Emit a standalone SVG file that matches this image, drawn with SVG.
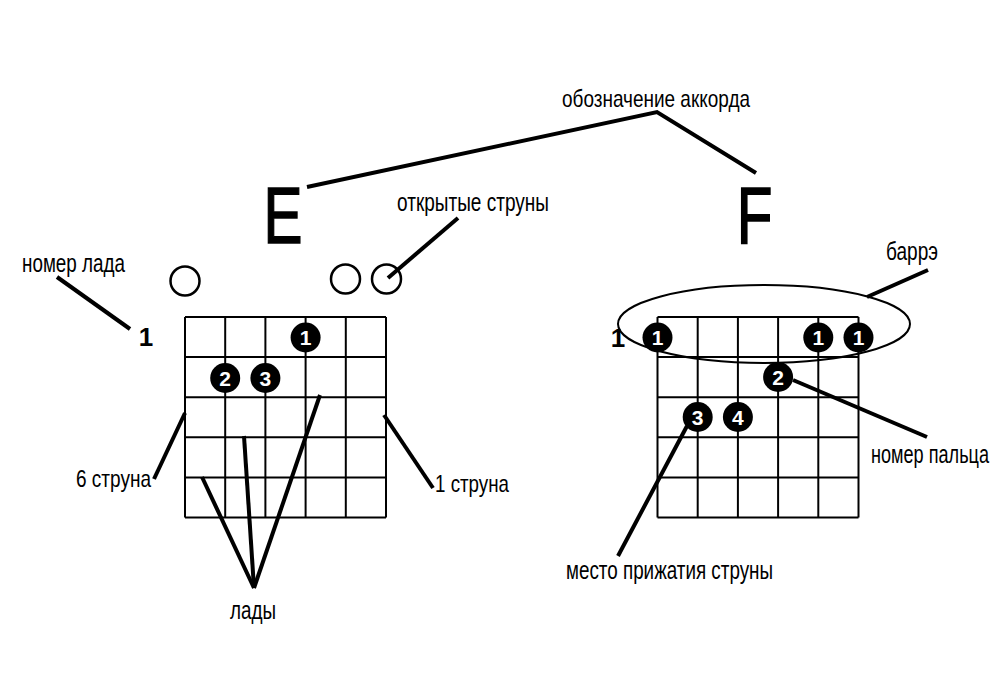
<svg xmlns="http://www.w3.org/2000/svg" width="1000" height="694" viewBox="0 0 1000 694">
<style>
.lbl{font-family:"Liberation Sans",Arial,sans-serif;font-size:24px;fill:#000}
.lg{font-size:26px}
.big{font-family:"Liberation Sans",Arial,sans-serif;font-size:79px;fill:#000;stroke:#000;stroke-width:1.6}
.fret{font-family:"Liberation Sans",Arial,sans-serif;font-size:26px;font-weight:bold;fill:#000;text-anchor:middle}
.grid line{stroke:#000;stroke-width:2}
.dot circle{fill:#000}
.dot text{font-family:"Liberation Sans",Arial,sans-serif;font-size:21px;font-weight:bold;fill:#fff;text-anchor:middle}
.open{fill:none;stroke:#000;stroke-width:2.5}
.conn line,.conn polyline{stroke:#000;stroke-width:4;fill:none}
</style>
<rect width="1000" height="694" fill="#fff"/>

<g id="label-chord"><text class="lbl" x="562" y="107" textLength="188" lengthAdjust="spacingAndGlyphs">обозначение аккорда</text></g>
<g id="label-open"><text class="lbl lg" x="397" y="211" textLength="152" lengthAdjust="spacingAndGlyphs">открытые струны</text></g>
<g id="label-fretnum"><text class="lbl lg" x="22" y="272" textLength="103" lengthAdjust="spacingAndGlyphs">номер лада</text></g>
<g id="label-6"><text class="lbl" x="76" y="487" textLength="75" lengthAdjust="spacingAndGlyphs">6 струна</text></g>
<g id="label-1"><text class="lbl" x="435" y="492" textLength="74" lengthAdjust="spacingAndGlyphs">1 струна</text></g>
<g id="label-frets"><text class="lbl lg" x="230" y="619" textLength="46" lengthAdjust="spacingAndGlyphs">лады</text></g>
<g id="label-barre"><text class="lbl lg" x="886" y="260" textLength="52" lengthAdjust="spacingAndGlyphs">баррэ</text></g>
<g id="label-finger"><text class="lbl lg" transform="translate(871,463) scale(0.7,1)" x="0" y="0" textLength="168.6" lengthAdjust="spacingAndGlyphs">номер пальца</text></g>
<g id="label-press"><text class="lbl lg" x="566" y="579" textLength="207" lengthAdjust="spacingAndGlyphs">место прижатия струны</text></g>

<g id="chord-E"><text class="big" transform="translate(263.5,242.5) scale(0.74,1)">E</text></g>
<g id="chord-F"><text class="big" transform="translate(736.8,242.5) scale(0.74,1)">F</text></g>

<g id="fret-E"><text class="fret" x="146" y="346">1</text></g>
<g id="fret-F"><text class="fret" x="618" y="347">1</text></g>

<g id="open-strings">
<circle class="open" cx="185" cy="281" r="14.5"/>
<circle class="open" cx="345.5" cy="279" r="14.5"/>
<circle class="open" cx="386.5" cy="279" r="14.5"/>
</g>

<g id="grid-E" class="grid">
<line x1="185" y1="317" x2="386" y2="317"/>
<line x1="185" y1="357.1" x2="386" y2="357.1"/>
<line x1="185" y1="397.2" x2="386" y2="397.2"/>
<line x1="185" y1="437.3" x2="386" y2="437.3"/>
<line x1="185" y1="477.4" x2="386" y2="477.4"/>
<line x1="185" y1="517.5" x2="386" y2="517.5"/>
<line x1="185" y1="317" x2="185" y2="517.5"/>
<line x1="225.2" y1="317" x2="225.2" y2="517.5"/>
<line x1="265.4" y1="317" x2="265.4" y2="517.5"/>
<line x1="305.6" y1="317" x2="305.6" y2="517.5"/>
<line x1="345.8" y1="317" x2="345.8" y2="517.5"/>
<line x1="386" y1="317" x2="386" y2="517.5"/>
</g>

<g id="grid-F" class="grid">
<line x1="657.5" y1="317" x2="858.5" y2="317"/>
<line x1="657.5" y1="357.1" x2="858.5" y2="357.1"/>
<line x1="657.5" y1="397.2" x2="858.5" y2="397.2"/>
<line x1="657.5" y1="437.3" x2="858.5" y2="437.3"/>
<line x1="657.5" y1="477.4" x2="858.5" y2="477.4"/>
<line x1="657.5" y1="517.5" x2="858.5" y2="517.5"/>
<line x1="657.5" y1="317" x2="657.5" y2="517.5"/>
<line x1="697.7" y1="317" x2="697.7" y2="517.5"/>
<line x1="737.9" y1="317" x2="737.9" y2="517.5"/>
<line x1="778.1" y1="317" x2="778.1" y2="517.5"/>
<line x1="818.3" y1="317" x2="818.3" y2="517.5"/>
<line x1="858.5" y1="317" x2="858.5" y2="517.5"/>
</g>

<g id="barre"><ellipse cx="764" cy="324" rx="146" ry="39" fill="none" stroke="#000" stroke-width="2"/></g>

<g id="dots-E" class="dot">
<circle cx="305.6" cy="337.5" r="15"/><text x="305.6" y="345">1</text>
<circle cx="225.2" cy="378" r="15"/><text x="225.2" y="385.5">2</text>
<circle cx="265.4" cy="378" r="15"/><text x="265.4" y="385.5">3</text>
</g>

<g id="dots-F" class="dot">
<circle cx="657.5" cy="337.5" r="15"/><text x="657.5" y="345">1</text>
<circle cx="818.3" cy="337.5" r="15"/><text x="818.3" y="345">1</text>
<circle cx="858.5" cy="337.5" r="15"/><text x="858.5" y="345">1</text>
<circle cx="778.1" cy="377" r="15"/><text x="778.1" y="384.5">2</text>
<circle cx="697.7" cy="417" r="15"/><text x="697.7" y="424.5">3</text>
<circle cx="737.9" cy="417" r="15"/><text x="737.9" y="424.5">4</text>
</g>

<g id="connectors" class="conn">
<polyline points="307,187 657,112 756,173"/>
<line x1="388" y1="278" x2="458" y2="218"/>
<line x1="57" y1="277" x2="130" y2="329"/>
<line x1="185" y1="413" x2="154" y2="479"/>
<line x1="384" y1="415" x2="433" y2="488"/>
<line x1="202" y1="477" x2="254" y2="588"/>
<line x1="244" y1="436" x2="254" y2="588"/>
<line x1="320" y1="395" x2="254" y2="588"/>
<line x1="928" y1="270" x2="867" y2="297"/>
<line x1="793" y1="380" x2="927" y2="437"/>
<line x1="687" y1="426" x2="618" y2="556"/>
</g>
</svg>
